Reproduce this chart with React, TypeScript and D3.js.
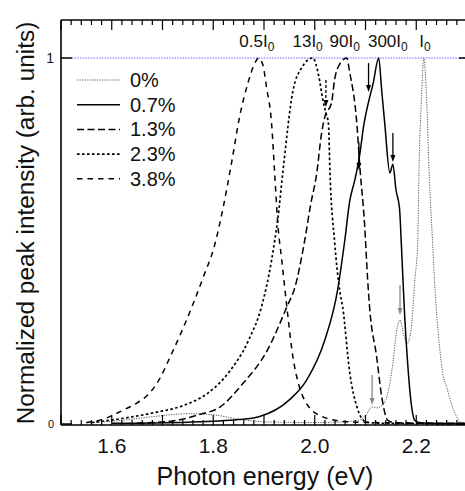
import React from "react";
import * as d3 from "d3";

const W = 465;
const H = 491;

// Series data: [photon energy (eV), normalized intensity]
const s0: [number, number][] = [
  [1.55, 0.003], [1.62, 0.01], [1.68, 0.02], [1.75, 0.028], [1.8, 0.025], [1.85, 0.013],
  [1.9, 0.006], [2.0, 0.004], [2.06, 0.006], [2.09, 0.012], [2.1, 0.022], [2.113, 0.047],
  [2.122, 0.044], [2.132, 0.05], [2.142, 0.074], [2.154, 0.167], [2.162, 0.26], [2.168, 0.284],
  [2.175, 0.245], [2.182, 0.22], [2.19, 0.26], [2.197, 0.39], [2.203, 0.5], [2.205, 0.667],
  [2.21, 0.88], [2.215, 1.0], [2.22, 0.9], [2.226, 0.667], [2.232, 0.5], [2.236, 0.39],
  [2.246, 0.21], [2.252, 0.14], [2.26, 0.1], [2.276, 0.03], [2.29, 0.003], [2.3, 0.001],
];
const s07: [number, number][] = [
  [1.6, 0.002], [1.75, 0.005], [1.85, 0.012], [1.89, 0.02], [1.95, 0.066], [1.984, 0.12],
  [2.02, 0.23], [2.045, 0.366], [2.059, 0.5], [2.069, 0.61], [2.079, 0.667], [2.088, 0.73],
  [2.097, 0.82], [2.106, 0.88], [2.115, 0.93], [2.126, 1.0], [2.132, 0.91], [2.138, 0.82],
  [2.148, 0.686], [2.154, 0.71], [2.16, 0.64], [2.167, 0.59], [2.171, 0.48], [2.177, 0.3],
  [2.183, 0.167], [2.191, 0.046], [2.197, 0.01], [2.21, 0.003], [2.3, 0.001],
];
const s13: [number, number][] = [
  [1.65, 0.002], [1.728, 0.01], [1.77, 0.025], [1.813, 0.046], [1.858, 0.11], [1.906, 0.2],
  [1.945, 0.32], [1.961, 0.374], [1.98, 0.5], [1.992, 0.6], [2.004, 0.686], [2.013, 0.79],
  [2.02, 0.84], [2.033, 0.877], [2.039, 0.94], [2.05, 0.985], [2.063, 1.0], [2.069, 0.96],
  [2.083, 0.82], [2.089, 0.7], [2.098, 0.55], [2.104, 0.4], [2.108, 0.32], [2.122, 0.183],
  [2.132, 0.074], [2.144, 0.01], [2.16, 0.003], [2.3, 0.001],
];
const s23: [number, number][] = [
  [1.56, 0.004], [1.62, 0.015], [1.68, 0.03], [1.74, 0.05], [1.79, 0.085], [1.83, 0.14],
  [1.87, 0.23], [1.895, 0.32], [1.915, 0.448], [1.921, 0.5], [1.927, 0.557], [1.937, 0.686],
  [1.957, 0.91], [1.975, 0.975], [1.996, 1.0], [2.008, 0.95], [2.016, 0.885], [2.022, 0.85],
  [2.027, 0.82], [2.03, 0.686], [2.039, 0.5], [2.049, 0.366], [2.055, 0.32], [2.069, 0.14],
  [2.083, 0.047], [2.102, 0.005], [2.13, 0.002], [2.3, 0.001],
];
const s38: [number, number][] = [
  [1.55, 0.004], [1.58, 0.012], [1.62, 0.036], [1.65, 0.058], [1.675, 0.085], [1.695, 0.125],
  [1.715, 0.183], [1.74, 0.26], [1.758, 0.32], [1.78, 0.4], [1.803, 0.49], [1.82, 0.595],
  [1.836, 0.713], [1.852, 0.84], [1.868, 0.93], [1.88, 0.98], [1.89, 1.0], [1.898, 0.98],
  [1.905, 0.92], [1.915, 0.82], [1.921, 0.686], [1.927, 0.55], [1.935, 0.448], [1.945, 0.32],
  [1.957, 0.183], [1.97, 0.1], [1.982, 0.06], [1.994, 0.038], [2.015, 0.02], [2.04, 0.01],
  [2.08, 0.005], [2.3, 0.001],
];

const legendLabels = ["0%", "0.7%", "1.3%", "2.3%", "3.8%"];
const peakCoefs = ["0.5", "13", "90", "300", ""];
const peakEnergies = [1.886, 1.986, 2.059, 2.144, 2.217];
const xTickLabels = [1.6, 1.8, 2.0, 2.2];

// arrows: energy, start value, end value
const arrowE = [2.106, 2.154, 2.022, 2.087, 2.168, 2.113];
const arrowFrom = [0.986, 0.795, 0.94, 0.77, 0.38, 0.134];
const arrowTo = [0.907, 0.716, 0.866, 0.694, 0.298, 0.052];
const arrowGray = [false, false, false, false, true, true];

const styles = [
  { stroke: "#555", width: 1, dash: "1.2,1.3" },
  { stroke: "#000", width: 1.5, dash: null },
  { stroke: "#000", width: 1.5, dash: "7,3.5" },
  { stroke: "#000", width: 1.7, dash: "2.6,2.4" },
  { stroke: "#000", width: 1.5, dash: "5.5,5" },
];

const FONT = "'Liberation Sans', Arial, Helvetica, sans-serif";

export default function App() {
  const x = d3.scaleLinear().domain([1.5, 2.3]).range([61, 467]);
  const y = d3.scaleLinear().domain([0, 1]).range([424, 58]);
  const top = y(1.104);
  const bottom = 425;
  const left = 61;
  const right = 469;
  const line = d3
    .line<[number, number]>()
    .x((d) => x(d[0]))
    .y((d) => y(d[1]))
    .curve(d3.curveMonotoneX);
  const all = [s0, s07, s13, s23, s38];
  const ticks = d3.range(0, 41).map((i) => 1.5 + i * 0.02);

  return (
    <svg
      width={W}
      height={H}
      style={{ position: "absolute", left: 0, top: 0, background: "#fff" }}
      fontFamily={FONT}
    >
      {/* reference line at 1 */}
      <line x1={left + 11} x2={right} y1={y(1)} y2={y(1)} stroke="#6a6aff" strokeWidth={1} strokeDasharray="1.5,1.2" />

      {/* curves */}
      {all.map((d, i) => (
        <path
          key={i}
          d={line(d) || ""}
          fill="none"
          stroke={styles[i].stroke}
          strokeWidth={styles[i].width}
          strokeDasharray={styles[i].dash || undefined}
        />
      ))}

      {/* arrows */}
      {arrowE.map((e, i) => {
        const c = arrowGray[i] ? "#888" : "#000";
        const xx = x(e);
        const y1 = y(arrowFrom[i]);
        const y2 = y(arrowTo[i]);
        return (
          <g key={i}>
            <line x1={xx} x2={xx} y1={y1} y2={y2 - 6} stroke={c} strokeWidth={1.3} strokeDasharray={i === 2 ? "3,2" : undefined} />
            <path d={`M${xx - 2.5},${y2 - 7} L${xx + 2.5},${y2 - 7} L${xx},${y2} Z`} fill={c} />
          </g>
        );
      })}

      {/* frame */}
      <line x1={left} x2={left} y1={top} y2={bottom} stroke="#000" strokeWidth={1.6} />
      <line x1={left} x2={right} y1={top} y2={top} stroke="#000" strokeWidth={1.6} />
      <line x1={left} x2={right} y1={bottom} y2={bottom} stroke="#000" strokeWidth={1.6} />
      <line x1={right} x2={right} y1={top} y2={bottom} stroke="#000" strokeWidth={1.6} />

      {/* x ticks */}
      {ticks.map((t, i) => {
        const major = i % 5 === 0;
        const len = major ? 10 : 5;
        return (
          <g key={i}>
            <line x1={x(t)} x2={x(t)} y1={bottom} y2={bottom - len} stroke="#000" strokeWidth={1.2} />
            <line x1={x(t)} x2={x(t)} y1={top} y2={top + len} stroke="#000" strokeWidth={1.2} />
          </g>
        );
      })}
      {xTickLabels.map((t) => (
        <text key={t} x={x(t)} y={453} textAnchor="middle" fontSize={21} fill="#111">
          {t.toFixed(1)}
        </text>
      ))}

      {/* y ticks */}
      {[0, 1].map((v) => (
        <g key={v}>
          <line x1={left} x2={left + 11} y1={y(v)} y2={y(v)} stroke="#000" strokeWidth={1.5} />
          <line x1={right - 10} x2={right} y1={y(v)} y2={y(v)} stroke="#000" strokeWidth={1.5} />
        </g>
      ))}
      <text x={54} y={y(1) + 5} textAnchor="end" fontSize={14} fill="#111">1</text>
      <text x={54} y={y(0) + 4} textAnchor="end" fontSize={11} fill="#111">0</text>

      {/* peak labels */}
      {peakEnergies.map((e, i) => (
        <text key={i} x={x(e)} y={47} textAnchor="middle" fontSize={17} fill="#111">
          <tspan>{peakCoefs[i] + "I"}</tspan>
          <tspan dy={4} fontSize={12}>0</tspan>
        </text>
      ))}

      {/* legend */}
      {legendLabels.map((lab, i) => {
        const ly = 80 + i * 24.7;
        return (
          <g key={lab}>
            <line
              x1={77}
              x2={120}
              y1={ly}
              y2={ly}
              stroke={styles[i].stroke}
              strokeWidth={styles[i].width}
              strokeDasharray={styles[i].dash || undefined}
            />
            <text x={130} y={ly + 7} fontSize={20} fill="#111">{lab}</text>
          </g>
        );
      })}

      {/* axis titles */}
      <text x={265} y={485} textAnchor="middle" fontSize={25} fill="#111">Photon energy (eV)</text>
      <text
        transform={`translate(34,223) rotate(-90)`}
        textAnchor="middle"
        fontSize={24.4}
        fill="#111"
      >
        Normalized peak intensity (arb. units)
      </text>
    </svg>
  );
}
